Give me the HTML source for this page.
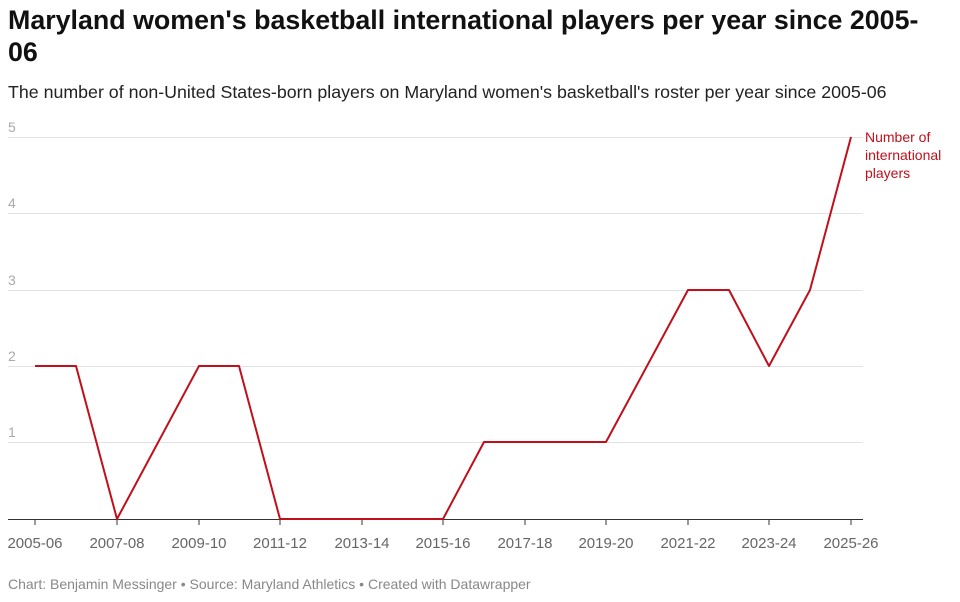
<!DOCTYPE html>
<html><head><meta charset="utf-8"><style>
body{margin:0;background:#fff;font-family:"Liberation Sans",sans-serif;}
.t{position:absolute;left:8px;top:4px;font-size:26.8px;font-weight:bold;color:#111;line-height:32px;width:950px;}
.s{position:absolute;left:8px;top:82px;font-size:17.8px;color:#222;white-space:nowrap;}
.f{position:absolute;left:8px;top:576px;font-size:14px;color:#888;}
</style></head><body>
<div class="t">Maryland women's basketball international players per year since 2005-<br>06</div>
<div class="s">The number of non-United States-born players on Maryland women's basketball's roster per year since 2005-06</div>
<svg width="960" height="602" style="position:absolute;left:0;top:0" font-family="Liberation Sans, sans-serif">
<g stroke="#e3e3e3" stroke-width="1">
<line x1="8" x2="863" y1="137.5" y2="137.5"/><line x1="8" x2="863" y1="213.5" y2="213.5"/>
<line x1="8" x2="863" y1="290.5" y2="290.5"/><line x1="8" x2="863" y1="366.5" y2="366.5"/>
<line x1="8" x2="863" y1="442.5" y2="442.5"/>
</g>
<line x1="8" x2="863" y1="519.5" y2="519.5" stroke="#333"/>
<g font-size="14" fill="#aaa">
<text x="8" y="132">5</text><text x="8" y="208">4</text><text x="8" y="285">3</text><text x="8" y="361">2</text><text x="8" y="437">1</text>
</g>
<g stroke="#333"><line x1="35" x2="35" y1="519" y2="525"/><line x1="117" x2="117" y1="519" y2="525"/><line x1="199" x2="199" y1="519" y2="525"/><line x1="280" x2="280" y1="519" y2="525"/><line x1="362" x2="362" y1="519" y2="525"/><line x1="443" x2="443" y1="519" y2="525"/><line x1="525" x2="525" y1="519" y2="525"/><line x1="606" x2="606" y1="519" y2="525"/><line x1="688" x2="688" y1="519" y2="525"/><line x1="769" x2="769" y1="519" y2="525"/><line x1="851" x2="851" y1="519" y2="525"/></g>
<g font-size="15" fill="#666" text-anchor="middle">
<text x="35" y="548">2005-06</text><text x="117" y="548">2007-08</text><text x="199" y="548">2009-10</text><text x="280" y="548">2011-12</text><text x="362" y="548">2013-14</text><text x="443" y="548">2015-16</text><text x="525" y="548">2017-18</text><text x="606" y="548">2019-20</text><text x="688" y="548">2021-22</text><text x="769" y="548">2023-24</text><text x="851" y="548">2025-26</text>
</g>
<polyline fill="none" stroke="#c0101c" stroke-width="2" stroke-linejoin="round" points="35,366 76,366 117,519 199,366 239,366 280,519 443,519 484,442 606,442 688,290 729,290 769,366 810,290 851,137"/>
<g font-size="14" fill="#c0101c"><text x="865" y="142">Number of</text><text x="865" y="160">international</text><text x="865" y="178">players</text></g>
</svg>
<div class="f">Chart: Benjamin Messinger • Source: Maryland Athletics • Created with Datawrapper</div>
</body></html>
